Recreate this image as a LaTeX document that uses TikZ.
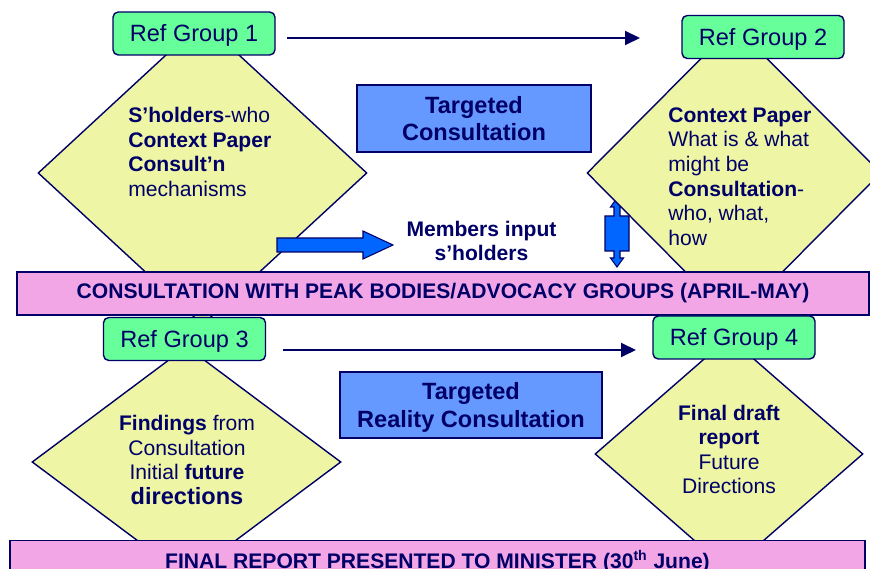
\documentclass[tikz,border=0pt]{standalone}
\usepackage{fontspec}
\setmainfont{Liberation Sans}
\usetikzlibrary{positioning,shapes.geometric,arrows.meta}

\definecolor{inkblue}{RGB}{0,0,102}
\definecolor{refgreen}{RGB}{102,255,153}
\definecolor{paleyellow}{RGB}{238,246,166}
\definecolor{boxblue}{RGB}{102,153,255}
\definecolor{bandpink}{RGB}{243,166,230}
\definecolor{arrowblue}{RGB}{0,102,255}

\begin{document}
\begin{tikzpicture}[
		refbox/.style={draw=inkblue, line width=0.8pt, fill=refgreen, rounded corners=3pt, minimum width=3.24cm, minimum height=0.86cm, inner sep=0pt, text height=0.34cm, text depth=0pt, text=inkblue, font=\fontsize{13.4}{16}\selectfont},
		rombo/.style={diamond, draw=inkblue, line width=0.8pt, fill=paleyellow, inner sep=0pt},
		testo/.style={inner sep=0pt, text=inkblue, font=\fontsize{12}{14}\selectfont},
		bluebox/.style={draw=inkblue, line width=0.8pt, fill=boxblue, inner sep=0pt, text depth=0pt, align=center, text=inkblue, font=\bfseries\fontsize{13.4}{15.4}\selectfont},
		fascia/.style={draw=inkblue, line width=0.8pt, fill=bandpink, inner sep=0pt, text=inkblue, font=\bfseries\fontsize{12}{14}\selectfont},
		freccia/.style={draw=inkblue, line width=1.1pt, -{Triangle[length=0.3cm,width=0.28cm]}},
		blocco/.style={draw=inkblue, line width=0.6pt, fill=arrowblue}
	]
	\useasboundingbox (0,0) rectangle (17.4,-11.38);
	
	% Rombi dei gruppi di riferimento
	\node[rombo, minimum width=6.58cm, minimum height=6.08cm] (r1) at (4.05,-3.46) {};
	\node[rombo, minimum width=6.18cm, minimum height=4.62cm] (r3) at (3.73,-9.24) {};
	\node[rombo, minimum width=5.36cm, minimum height=4.68cm] (r4) at (14.58,-9.08) {};
	
	% Frecce piene
	\draw[blocco] (5.54,-4.76) -- (7.26,-4.76) -- (7.26,-4.62) -- (7.86,-4.90) -- (7.26,-5.18) -- (7.26,-5.04) -- (5.54,-5.04) -- cycle;
	\draw[blocco] (12.34,-3.96) -- (12.47,-4.14) -- (12.40,-4.14) -- (12.40,-4.32) -- (12.58,-4.32) -- (12.58,-5.02) -- (12.40,-5.02) -- (12.40,-5.16) -- (12.47,-5.16)
		-- (12.34,-5.34) -- (12.21,-5.16) -- (12.28,-5.16) -- (12.28,-5.02) -- (12.10,-5.02) -- (12.10,-4.32) -- (12.28,-4.32) -- (12.28,-4.14) -- (12.21,-4.14) -- cycle;
	\node[rombo, minimum width=5.88cm, minimum height=5.92cm] (r2) at (14.68,-3.46) {};
	
	% Testi nei rombi
	\node[testo, align=left, anchor=west] (t1) at (2.56,-3.04) {\textbf{S'holders}-who\\ \textbf{Context Paper}\\ \textbf{Consult'n}\\ mechanisms};
	\node[testo, align=left, anchor=west] (t2) at (13.36,-3.53) {\textbf{Context Paper}\\ What is \& what\\ might be\\ \textbf{Consultation}-\\ who, what,\\ how};
	\node[testo, align=center] (t3) at (3.74,-9.20) {\textbf{Findings} from\\ Consultation\\ Initial \textbf{future}\\ {\bfseries\fontsize{13.4}{15}\selectfont directions}};
	\node[testo, align=center] (t4) at (14.58,-8.99) {\textbf{Final draft}\\ \textbf{report}\\ Future\\ Directions};
	
	% Consultazioni mirate
	\node[bluebox, minimum width=4.68cm, minimum height=1.34cm] (c1) at (9.48,-2.37) {Targeted\\ Consultation};
	\node[bluebox, minimum width=5.24cm, minimum height=1.32cm] (c2) at (9.42,-8.10) {Targeted\\ Reality Consultation};
	\node[testo, align=center, font=\bfseries\fontsize{12}{14}\selectfont] (membri) at (9.63,-4.82) {Members input\\ s'holders};
	
	% Fasce
	\node[fascia, minimum width=17.04cm, minimum height=0.86cm] (f1) at (8.86,-5.87) {CONSULTATION WITH PEAK BODIES/ADVOCACY GROUPS (APRIL-MAY)};
	\node[fascia, minimum width=17.10cm, minimum height=0.84cm, anchor=north] (f2) at (8.75,-10.80) {FINAL REPORT PRESENTED TO MINISTER (30\textsuperscript{th} June)};
	
	% Gruppi di riferimento
	\node[refbox] (rg1) at (3.88,-0.67) {Ref Group 1};
	\node[refbox] (rg2) at (15.26,-0.74) {Ref Group 2};
	\node[refbox] (rg3) at (3.69,-6.78) {Ref Group 3};
	\node[refbox] (rg4) at (14.68,-6.75) {Ref Group 4};
	
	% Frecce tra i gruppi
	\coordinate (a1) at (5.74,-0.76);
	\coordinate (b1) at (12.80,-0.76);
	\coordinate (a2) at (5.66,-7.00);
	\coordinate (b2) at (12.72,-7.00);
	\draw[freccia] (a1) -- (b1);
	\draw[freccia] (a2) -- (b2);
\end{tikzpicture}
\end{document}
